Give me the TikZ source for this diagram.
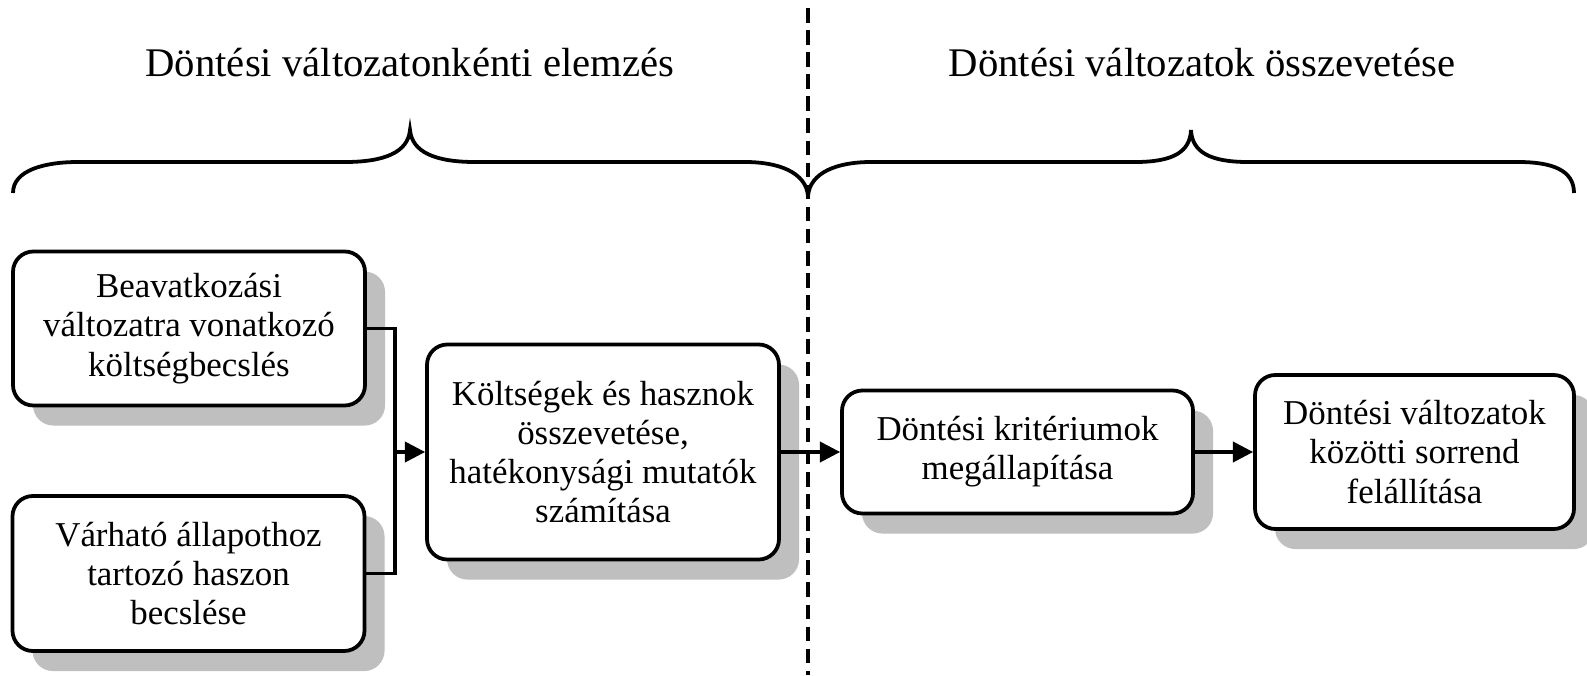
\documentclass[tikz,border=0pt]{standalone}
\usepackage{fontspec}
\setmainfont{Liberation Serif}
\usetikzlibrary{arrows.meta,shadows}
\tikzset{
  procbox/.style={draw=black, line width=1.3pt, rounded corners=7pt, fill=white,
    align=center, font=\fontsize{12pt}{13.5pt}\selectfont, inner sep=0pt,
    drop shadow={shadow xshift=6.9pt, shadow yshift=-6.9pt, fill=black!25, opacity=1}},
  conn/.style={line width=1.15pt},
  arr/.style={line width=1.15pt, -{Triangle[length=7pt,width=7pt]}},
  brace/.style={line width=1.3pt},
  divider/.style={line width=1.15pt, dash pattern=on 5pt off 2.6pt},
  title/.style={font=\fontsize{14pt}{16pt}\selectfont, anchor=base}
}
\begin{document}
\begin{tikzpicture}[x=0.344pt, y=-0.344pt]
\useasboundingbox (0,0) rectangle (1587,675);
% divider
\coordinate (dtop) at (808,8);
\coordinate (dbot) at (808,675);
\draw[divider] (dtop) -- (dbot);
% titles
\node[title] (t1) at (410,76) {Döntési változatonkénti elemzés};
\node[title] (t2) at (1202,76) {Döntési változatok összevetése};
% braces
\draw[brace] (13,193) .. controls (13,170) and (45,162) .. (78,162) -- (345,162)
  .. controls (385,162) and (408,152) .. (410,130)
  .. controls (412,152) and (435,162) .. (475,162) -- (745,162)
  .. controls (778,162) and (806,172) .. (808,196);
\draw[brace] (808,196) .. controls (810,172) and (838,162) .. (871,162) -- (1135,162)
  .. controls (1173,162) and (1190,152) .. (1191,130)
  .. controls (1192,152) and (1210,162) .. (1248,162) -- (1518,162)
  .. controls (1552,162) and (1574,170) .. (1574,193);
% boxes
\node[procbox, minimum width=352*0.344pt, minimum height=154*0.344pt] (b1) at (189,328.5)
  {Beavatkozási\\változatra vonatkozó\\költségbecslés};
\node[procbox, minimum width=352*0.344pt, minimum height=155*0.344pt] (b2) at (188.5,573.5)
  {Várható állapothoz\\tartozó haszon\\becslése};
\node[procbox, minimum width=352*0.344pt, minimum height=215*0.344pt] (b3) at (603,452)
  {Költségek és hasznok\\összevetése,\\hatékonysági mutatók\\számítása};
\node[procbox, minimum width=351*0.344pt, minimum height=123*0.344pt] (b4) at (1017.5,452)
  {Döntési kritériumok\\megállapítása};
\node[procbox, minimum width=319*0.344pt, minimum height=154*0.344pt] (b5) at (1414.5,452)
  {Döntési változatok\\közötti sorrend\\felállítása};
% connectors
\coordinate (j) at (395,452);
\draw[conn] (b1.east) -| (j);
\draw[conn] (b2.east) -| (j);
\draw[arr] (j) -- (b3.west);
\draw[arr] (b3.east) -- (b4.west);
\draw[arr] (b4.east) -- (b5.west);
\end{tikzpicture}
\end{document}
